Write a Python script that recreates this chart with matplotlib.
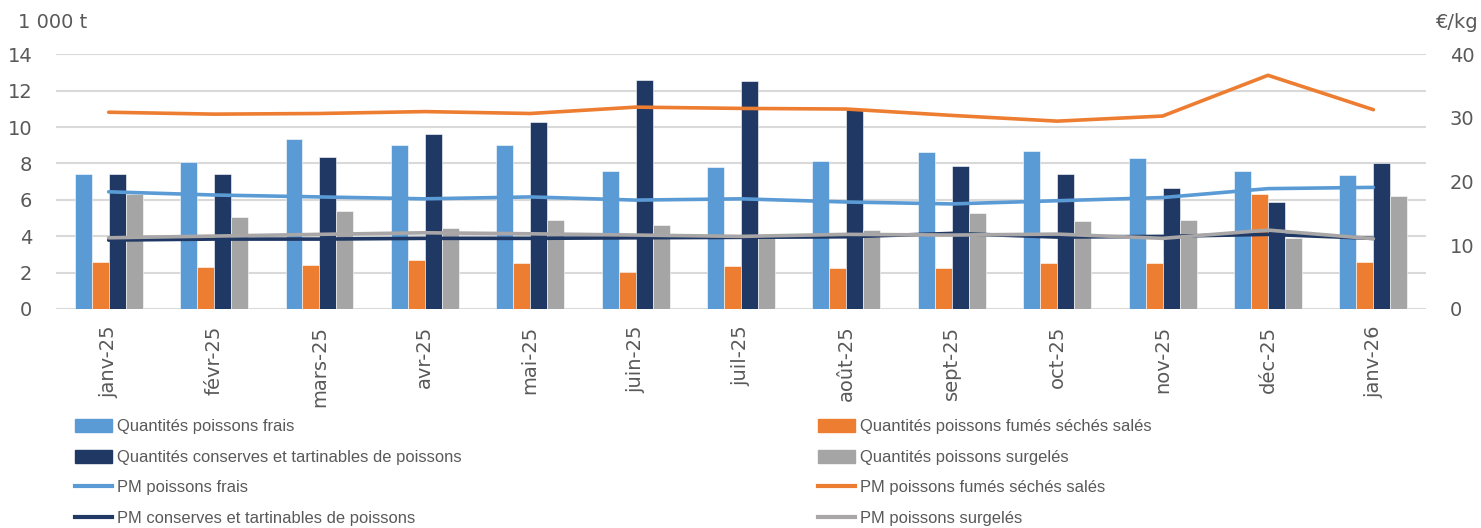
import matplotlib.pyplot as plt
import numpy as np
from matplotlib.patches import Patch
from matplotlib.lines import Line2D

plt.rcParams['font.family'] = ['DejaVu Sans']

mois = ['janv-25', 'févr-25', 'mars-25', 'avr-25', 'mai-25', 'juin-25', 'juil-25',
        'août-25', 'sept-25', 'oct-25', 'nov-25', 'déc-25', 'janv-26']

# quantités (1 000 t)
q_frais = [7.43, 8.07, 9.37, 9.04, 8.99, 7.56, 7.78, 8.13, 8.62, 8.68, 8.29, 7.56, 7.38]
q_fumes = [2.58, 2.31, 2.42, 2.69, 2.51, 2.03, 2.34, 2.25, 2.25, 2.53, 2.53, 6.32, 2.58]
q_conserves = [7.43, 7.43, 8.38, 9.61, 10.27, 12.59, 12.52, 10.93, 7.84, 7.41, 6.63, 5.88, 8.0]
q_surgeles = [6.3, 5.07, 5.4, 4.43, 4.87, 4.61, 3.95, 4.32, 5.29, 4.83, 4.88, 3.88, 6.19]

# prix moyens (€/kg)
pm_frais = [18.4, 17.9, 17.6, 17.3, 17.6, 17.1, 17.3, 16.8, 16.5, 17.0, 17.5, 18.9, 19.1]
pm_fumes = [30.9, 30.6, 30.7, 31.0, 30.7, 31.7, 31.5, 31.4, 30.4, 29.5, 30.3, 36.7, 31.3]
pm_conserves = [10.82, 10.98, 10.98, 11.09, 11.09, 11.18, 11.25, 11.34, 11.87, 11.29, 11.40, 11.72, 11.09]
pm_surgeles = [11.18, 11.45, 11.72, 11.97, 11.81, 11.61, 11.40, 11.72, 11.61, 11.76, 11.09, 12.39, 11.03]

c_frais = '#5B9BD5'
c_fumes = '#ED7D31'
c_conserves = '#203864'
c_surgeles = '#A5A5A5'
c_pm_surgeles = '#A8A6A6'
txt = '#595959'

fig = plt.figure(figsize=(14.81, 5.28), dpi=100)
ax = fig.add_axes([0.0378, 0.4148, 0.9251, 0.4824])
ax2 = ax.twinx()

x = np.arange(len(mois))
w = 0.161
series = [(q_frais, c_frais), (q_fumes, c_fumes), (q_conserves, c_conserves), (q_surgeles, c_surgeles)]
for i, (vals, col) in enumerate(series):
    ax.bar(x + (i - 1.5) * w, vals, w, color=col, edgecolor='white', linewidth=0.4, zorder=2)

lines = [(pm_frais, c_frais), (pm_fumes, c_fumes), (pm_conserves, c_conserves), (pm_surgeles, c_pm_surgeles)]
for vals, col in lines:
    ax2.plot(x, vals, color=col, linewidth=2.6, solid_capstyle='round', zorder=3)

ax.set_xlim(-0.5, len(mois) - 0.5)
ax.set_ylim(0, 14)
ax.set_yticks(range(0, 15, 2))
ax2.set_ylim(0, 40)
ax2.set_yticks(range(0, 41, 10))

ax.grid(axis='y', color='#D9D9D9', linewidth=1.5, zorder=0)
ax.set_axisbelow(True)
for a in (ax, ax2):
    for s in a.spines.values():
        s.set_visible(False)

ax.set_xticks(x)
ax.set_xticklabels(mois, rotation=90, fontsize=14, color=txt)
ax.tick_params(axis='x', length=0, pad=12)
ax.tick_params(axis='y', length=0, pad=17, labelsize=14, labelcolor=txt)
ax2.tick_params(axis='y', length=0, pad=17, labelsize=14, labelcolor=txt)

fig.text(18 / 1481, 1 - 23 / 528, '1 000 t', fontsize=14, color=txt, ha='left', va='center')
fig.text(1479 / 1481, 1 - 23 / 528, '€/kg', fontsize=14, color=txt, ha='right', va='center')

gauche = [Patch(color=c_frais, label='Quantités poissons frais'),
          Patch(color=c_conserves, label='Quantités conserves et tartinables de poissons'),
          Line2D([], [], color=c_frais, lw=3, label='PM poissons frais'),
          Line2D([], [], color=c_conserves, lw=3, label='PM conserves et tartinables de poissons')]
droite = [Patch(color=c_fumes, label='Quantités poissons fumés séchés salés'),
          Patch(color=c_surgeles, label='Quantités poissons surgelés'),
          Line2D([], [], color=c_fumes, lw=3, label='PM poissons fumés séchés salés'),
          Line2D([], [], color=c_pm_surgeles, lw=3, label='PM poissons surgelés')]

opts = dict(loc='upper left', frameon=False, handlelength=2.25, handleheight=0.85,
            handletextpad=0.3, labelspacing=0.92, borderaxespad=0, borderpad=0,
            labelcolor=txt,
            prop={'family': ['Liberation Sans', 'DejaVu Sans'], 'size': 11.9})
fig.legend(handles=gauche, bbox_to_anchor=(75 / 1481, 1 - 419 / 528), **opts)
fig.legend(handles=droite, bbox_to_anchor=(818 / 1481, 1 - 419 / 528), **opts)

fig.savefig('out.png', dpi=100)
